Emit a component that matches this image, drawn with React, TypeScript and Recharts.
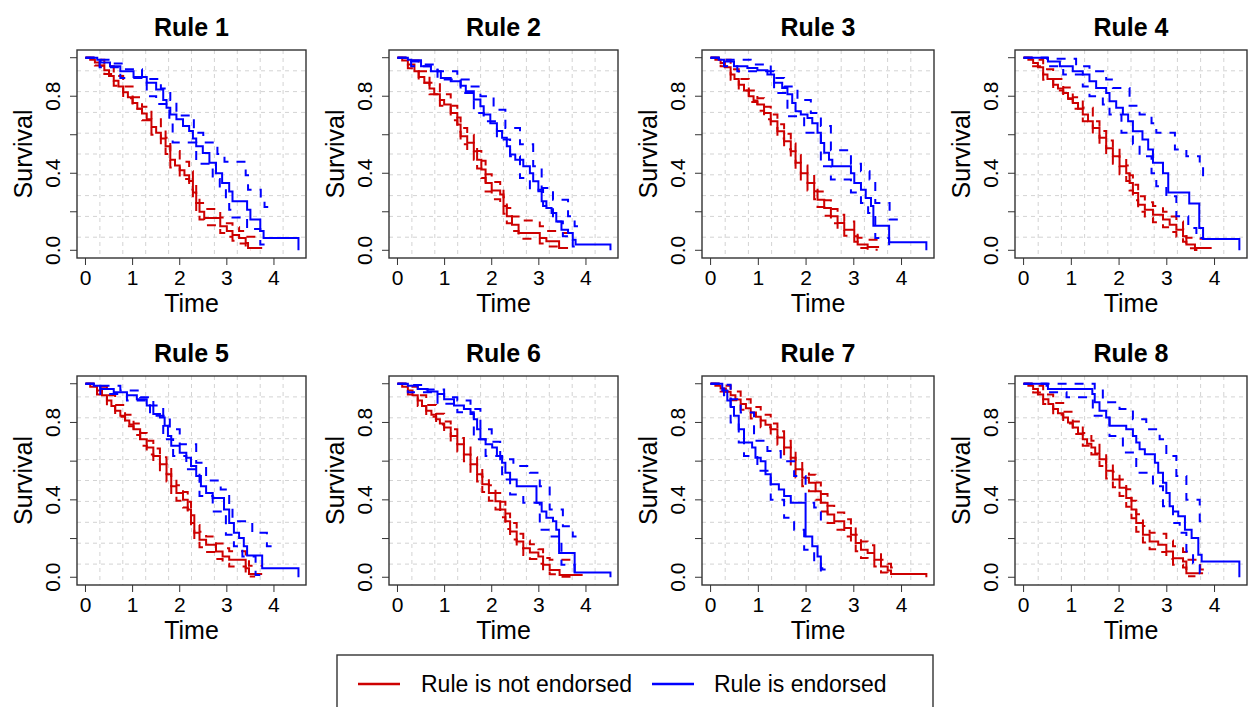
import React from 'react';
import { LineChart, Line, XAxis, YAxis, CartesianGrid } from 'recharts';

type P = [number, number][];

// ---- Rule 1 ----
const r1nE: P = [[0,1],[0.1,0.99],[0.2,0.975],[0.3,0.958],[0.4,0.935],[0.5,0.905],[0.6,0.88],[0.7,0.85],[0.8,0.82],[0.9,0.795],[1.0,0.765],[1.1,0.735],[1.2,0.71],[1.3,0.68],[1.4,0.64],[1.5,0.61],[1.6,0.58],[1.7,0.54],[1.8,0.47],[1.9,0.44],[2.0,0.415],[2.1,0.39],[2.2,0.36],[2.28,0.3],[2.35,0.245],[2.42,0.2],[2.52,0.168],[2.86,0.125],[3.0,0.1],[3.12,0.08],[3.26,0.064],[3.4,0.038],[3.45,0.012],[3.75,0.012]];
const r1nU: P = [[0,1],[0.2,0.99],[0.4,0.955],[0.6,0.905],[0.8,0.85],[1.0,0.795],[1.2,0.745],[1.4,0.68],[1.6,0.625],[1.7,0.585],[1.8,0.515],[2.0,0.46],[2.2,0.41],[2.28,0.35],[2.35,0.29],[2.42,0.245],[2.52,0.215],[2.86,0.17],[3.0,0.14],[3.12,0.12],[3.26,0.1],[3.4,0.07],[3.75,0.07]];
const r1nL: P = [[0,1],[0.2,0.96],[0.4,0.915],[0.6,0.855],[0.8,0.79],[1.0,0.735],[1.2,0.675],[1.4,0.6],[1.6,0.54],[1.7,0.5],[1.8,0.43],[2.0,0.37],[2.2,0.315],[2.28,0.26],[2.35,0.2],[2.42,0.16],[2.52,0.13],[2.86,0.09],[3.0,0.07],[3.12,0.05],[3.26,0.035],[3.4,0.015],[3.45,0.002],[3.5,0.002]];
const r1eE: P = [[0,1],[0.25,0.99],[0.32,0.975],[0.52,0.955],[0.74,0.93],[1.02,0.9],[1.3,0.87],[1.5,0.835],[1.65,0.78],[1.72,0.74],[1.8,0.705],[1.93,0.68],[2.07,0.645],[2.2,0.62],[2.28,0.58],[2.35,0.54],[2.49,0.505],[2.63,0.455],[2.77,0.4],[2.9,0.35],[3.05,0.305],[3.12,0.255],[3.43,0.21],[3.5,0.16],[3.71,0.1],[3.78,0.064],[4.52,0.064],[4.52,0]];
const r1eU: P = [[0,1],[0.3,0.99],[0.55,0.97],[0.8,0.94],[1.2,0.89],[1.6,0.84],[1.8,0.78],[1.93,0.7],[2.3,0.61],[2.5,0.56],[2.8,0.5],[2.95,0.46],[3.4,0.39],[3.45,0.315],[3.72,0.26],[3.8,0.225],[3.96,0.225]];
const r1eL: P = [[0,1],[0.3,0.95],[0.74,0.895],[1.3,0.8],[1.5,0.76],[1.78,0.67],[1.85,0.56],[2.35,0.45],[2.7,0.37],[2.85,0.32],[2.98,0.26],[3.05,0.21],[3.12,0.17],[3.43,0.11],[3.71,0.03],[3.78,0.01],[3.82,0.01]];

// ---- Rule 2 ----
const r2nE: P = [[0,1],[0.1,0.985],[0.22,0.965],[0.36,0.93],[0.45,0.9],[0.57,0.87],[0.68,0.84],[0.78,0.81],[0.9,0.78],[0.99,0.757],[1.13,0.713],[1.27,0.653],[1.34,0.592],[1.48,0.558],[1.62,0.514],[1.69,0.47],[1.78,0.42],[1.87,0.35],[2.0,0.31],[2.18,0.29],[2.25,0.23],[2.32,0.177],[2.43,0.133],[2.57,0.09],[3.02,0.064],[3.16,0.047],[3.43,0.012],[3.62,0.012]];
const r2nU: P = [[0,1],[0.22,0.985],[0.45,0.93],[0.68,0.87],[0.9,0.81],[1.13,0.75],[1.27,0.69],[1.34,0.635],[1.48,0.6],[1.62,0.56],[1.69,0.515],[1.78,0.465],[1.87,0.395],[2.0,0.355],[2.18,0.335],[2.25,0.275],[2.32,0.22],[2.43,0.175],[2.57,0.155],[3.02,0.125],[3.16,0.1],[3.43,0.09],[3.62,0.09]];
const r2nL: P = [[0,1],[0.22,0.945],[0.45,0.87],[0.68,0.81],[0.9,0.75],[1.13,0.675],[1.27,0.615],[1.34,0.55],[1.48,0.515],[1.62,0.47],[1.69,0.425],[1.78,0.375],[1.87,0.305],[2.0,0.265],[2.18,0.245],[2.25,0.19],[2.32,0.14],[2.43,0.1],[2.57,0.06],[3.02,0.035],[3.16,0.02],[3.43,0.003],[3.5,0.003]];
const r2eE: P = [[0,1],[0.22,0.99],[0.29,0.987],[0.5,0.956],[0.71,0.93],[0.92,0.895],[1.13,0.878],[1.34,0.855],[1.45,0.826],[1.62,0.783],[1.76,0.748],[1.83,0.705],[1.97,0.66],[2.11,0.62],[2.22,0.584],[2.32,0.54],[2.39,0.497],[2.5,0.47],[2.67,0.436],[2.81,0.4],[2.88,0.358],[2.99,0.306],[3.06,0.255],[3.16,0.22],[3.27,0.194],[3.37,0.15],[3.48,0.107],[3.62,0.09],[3.72,0.055],[3.78,0.03],[4.52,0.03],[4.52,0]];
const r2eU: P = [[0,1],[0.29,0.98],[0.57,0.965],[0.85,0.93],[1.27,0.887],[1.55,0.85],[1.76,0.8],[2.04,0.73],[2.29,0.635],[2.6,0.55],[2.88,0.436],[3.06,0.324],[3.3,0.263],[3.62,0.177],[3.76,0.125],[3.93,0.125]];
const r2eL: P = [[0,1],[0.29,0.956],[0.85,0.887],[1.34,0.817],[1.62,0.713],[1.83,0.67],[2.11,0.575],[2.39,0.488],[2.6,0.376],[2.81,0.315],[3.09,0.23],[3.3,0.15],[3.51,0.073],[3.72,0.02],[3.79,0.02]];

// ---- Rule 3 ----
const r3nE: P = [[0,1],[0.1,0.99],[0.21,0.973],[0.3,0.95],[0.42,0.913],[0.5,0.89],[0.59,0.86],[0.7,0.83],[0.8,0.8],[0.9,0.778],[0.98,0.757],[1.12,0.713],[1.26,0.67],[1.4,0.618],[1.54,0.566],[1.68,0.514],[1.78,0.454],[1.89,0.4],[2.03,0.35],[2.17,0.306],[2.24,0.263],[2.38,0.22],[2.52,0.177],[2.66,0.142],[2.8,0.107],[3.01,0.073],[3.08,0.03],[3.29,0.017],[3.53,0.017]];
const r3nU: P = [[0,1],[0.21,0.99],[0.42,0.94],[0.59,0.89],[0.8,0.83],[0.98,0.79],[1.12,0.745],[1.26,0.705],[1.4,0.655],[1.54,0.605],[1.68,0.555],[1.78,0.495],[1.89,0.44],[2.03,0.395],[2.17,0.35],[2.24,0.305],[2.38,0.26],[2.52,0.215],[2.66,0.185],[2.8,0.15],[3.01,0.115],[3.08,0.065],[3.29,0.055],[3.53,0.055]];
const r3nL: P = [[0,1],[0.21,0.955],[0.42,0.885],[0.59,0.83],[0.8,0.77],[0.98,0.725],[1.12,0.68],[1.26,0.635],[1.4,0.58],[1.54,0.525],[1.68,0.475],[1.78,0.415],[1.89,0.36],[2.03,0.31],[2.17,0.265],[2.24,0.225],[2.38,0.18],[2.52,0.14],[2.66,0.105],[2.8,0.075],[3.01,0.045],[3.08,0.012],[3.29,0.003],[3.5,0.003]];
const r3eE: P = [[0,1],[0.17,0.99],[0.28,0.98],[0.49,0.956],[0.77,0.947],[0.98,0.935],[1.19,0.913],[1.33,0.87],[1.5,0.843],[1.61,0.81],[1.71,0.765],[1.78,0.722],[1.89,0.705],[2.03,0.687],[2.13,0.66],[2.24,0.61],[2.31,0.557],[2.38,0.506],[2.48,0.47],[2.55,0.436],[2.94,0.4],[3.01,0.35],[3.15,0.315],[3.25,0.272],[3.36,0.23],[3.41,0.128],[3.74,0.042],[4.52,0.042],[4.52,0]];
const r3eU: P = [[0,1],[0.28,0.99],[0.84,0.965],[1.26,0.895],[1.54,0.85],[1.82,0.78],[2.1,0.713],[2.31,0.645],[2.52,0.52],[2.94,0.45],[3.15,0.41],[3.33,0.367],[3.45,0.246],[3.75,0.16],[3.95,0.16]];
const r3eL: P = [[0,1],[0.28,0.956],[0.56,0.93],[1.33,0.817],[1.61,0.696],[1.96,0.61],[2.31,0.436],[2.52,0.367],[2.94,0.3],[3.15,0.246],[3.3,0.194],[3.45,0.064],[3.74,0.007],[3.8,0.007]];

// ---- Rule 4 ----
const r4nE: P = [[0,1],[0.1,0.99],[0.2,0.973],[0.3,0.95],[0.41,0.913],[0.5,0.89],[0.62,0.86],[0.72,0.84],[0.83,0.817],[0.93,0.79],[1.03,0.765],[1.14,0.735],[1.24,0.705],[1.35,0.67],[1.45,0.635],[1.59,0.584],[1.73,0.53],[1.87,0.488],[2.01,0.436],[2.15,0.4],[2.22,0.35],[2.29,0.298],[2.4,0.237],[2.54,0.21],[2.71,0.185],[2.92,0.16],[3.06,0.133],[3.2,0.107],[3.34,0.073],[3.41,0.03],[3.59,0.012],[3.94,0.012]];
const r4nU: P = [[0,1],[0.2,0.99],[0.41,0.94],[0.62,0.89],[0.83,0.845],[1.03,0.795],[1.24,0.74],[1.45,0.67],[1.59,0.62],[1.73,0.57],[1.87,0.53],[2.01,0.48],[2.15,0.44],[2.22,0.39],[2.29,0.34],[2.4,0.28],[2.54,0.25],[2.71,0.23],[2.92,0.2],[3.06,0.175],[3.2,0.15],[3.34,0.11],[3.41,0.065],[3.59,0.06],[3.8,0.06]];
const r4nL: P = [[0,1],[0.2,0.955],[0.41,0.885],[0.62,0.83],[0.83,0.785],[1.03,0.735],[1.24,0.67],[1.45,0.6],[1.59,0.55],[1.73,0.49],[1.87,0.45],[2.01,0.395],[2.15,0.36],[2.22,0.31],[2.29,0.26],[2.4,0.2],[2.54,0.17],[2.71,0.145],[2.92,0.12],[3.06,0.095],[3.2,0.07],[3.34,0.045],[3.41,0.01],[3.59,0.002],[3.7,0.002]];
const r4eE: P = [[0,1],[0.48,1],[0.51,0.98],[0.76,0.956],[1.03,0.93],[1.24,0.913],[1.38,0.878],[1.52,0.843],[1.73,0.817],[1.8,0.774],[1.94,0.74],[2.08,0.705],[2.19,0.67],[2.29,0.618],[2.49,0.575],[2.61,0.523],[2.71,0.454],[2.92,0.4],[3.03,0.3],[3.47,0.243],[3.68,0.116],[3.76,0.059],[4.52,0.059],[4.52,0]];
const r4eU: P = [[0,1],[0.5,0.995],[1.1,0.956],[1.38,0.93],[1.73,0.887],[1.87,0.843],[2.22,0.75],[2.43,0.705],[2.68,0.66],[2.78,0.61],[3.17,0.523],[3.41,0.488],[3.69,0.436],[3.76,0.37],[3.77,0.37]];
const r4eL: P = [[0,1],[0.5,0.956],[0.83,0.913],[1.24,0.85],[1.38,0.8],[1.66,0.757],[1.8,0.705],[2.05,0.61],[2.29,0.55],[2.43,0.488],[2.68,0.4],[2.78,0.332],[2.99,0.28],[3.2,0.177],[3.45,0.116],[3.62,0.064],[3.76,0.064]];

// ---- Rule 5 ----
const r5nE: P = [[0,1],[0.1,0.985],[0.245,0.965],[0.35,0.94],[0.455,0.913],[0.55,0.885],[0.63,0.86],[0.74,0.835],[0.84,0.81],[0.93,0.79],[1.02,0.765],[1.16,0.713],[1.3,0.67],[1.44,0.627],[1.58,0.584],[1.72,0.532],[1.82,0.47],[1.93,0.436],[2.07,0.4],[2.17,0.35],[2.24,0.28],[2.31,0.23],[2.42,0.194],[2.56,0.168],[2.77,0.133],[2.91,0.107],[3.05,0.09],[3.4,0.047],[3.47,0.017],[3.75,0.017]];
const r5nU: P = [[0,1],[0.245,0.985],[0.455,0.94],[0.63,0.89],[0.84,0.84],[1.02,0.795],[1.16,0.745],[1.3,0.705],[1.44,0.665],[1.58,0.62],[1.72,0.57],[1.82,0.51],[1.93,0.475],[2.07,0.44],[2.17,0.39],[2.24,0.32],[2.31,0.27],[2.42,0.235],[2.56,0.21],[2.77,0.175],[2.91,0.15],[3.05,0.135],[3.4,0.09],[3.47,0.06],[3.75,0.06]];
const r5nL: P = [[0,1],[0.245,0.945],[0.455,0.885],[0.63,0.83],[0.84,0.78],[1.02,0.735],[1.16,0.68],[1.3,0.635],[1.44,0.59],[1.58,0.545],[1.72,0.495],[1.82,0.43],[1.93,0.395],[2.07,0.36],[2.17,0.31],[2.24,0.24],[2.31,0.19],[2.42,0.155],[2.56,0.13],[2.77,0.095],[2.91,0.07],[3.05,0.055],[3.4,0.02],[3.47,0.004],[3.6,0.004]];
const r5eE: P = [[0,1],[0.14,1],[0.175,0.99],[0.315,0.973],[0.6,0.956],[0.88,0.94],[1.09,0.92],[1.3,0.887],[1.44,0.843],[1.58,0.826],[1.68,0.783],[1.75,0.73],[1.82,0.68],[2.0,0.644],[2.14,0.618],[2.24,0.575],[2.35,0.523],[2.45,0.47],[2.56,0.436],[2.7,0.41],[2.94,0.35],[3.05,0.28],[3.15,0.23],[3.26,0.203],[3.36,0.16],[3.43,0.113],[3.75,0.047],[4.52,0.047],[4.52,0]];
const r5eU: P = [[0,1],[0.315,0.99],[0.74,0.965],[1.16,0.93],[1.44,0.887],[1.65,0.835],[1.79,0.765],[2.0,0.687],[2.35,0.592],[2.56,0.5],[2.87,0.454],[3.05,0.36],[3.12,0.29],[3.54,0.23],[3.85,0.16],[3.95,0.16]];
const r5eL: P = [[0,1],[0.315,0.947],[0.88,0.913],[1.37,0.835],[1.65,0.713],[1.86,0.627],[2.14,0.558],[2.42,0.42],[2.7,0.34],[2.98,0.22],[3.15,0.16],[3.33,0.107],[3.61,0.012],[3.8,0.012]];

// ---- Rule 6 ----
const r6nE: P = [[0,1],[0.1,0.985],[0.22,0.965],[0.32,0.94],[0.43,0.913],[0.52,0.885],[0.61,0.86],[0.72,0.84],[0.82,0.817],[0.9,0.795],[0.99,0.774],[1.13,0.73],[1.27,0.687],[1.41,0.635],[1.55,0.584],[1.69,0.532],[1.8,0.48],[1.94,0.436],[2.08,0.393],[2.18,0.35],[2.29,0.29],[2.39,0.237],[2.53,0.185],[2.67,0.15],[2.81,0.128],[2.99,0.107],[3.09,0.064],[3.23,0.038],[3.44,0.012],[3.93,0.012]];
const r6nU: P = [[0,1],[0.22,0.985],[0.43,0.94],[0.61,0.89],[0.82,0.845],[0.99,0.805],[1.13,0.765],[1.27,0.72],[1.41,0.67],[1.55,0.62],[1.69,0.57],[1.8,0.52],[1.94,0.475],[2.08,0.435],[2.18,0.39],[2.29,0.33],[2.39,0.28],[2.53,0.225],[2.67,0.19],[2.81,0.17],[2.99,0.145],[3.09,0.1],[3.23,0.09],[3.82,0.09]];
const r6nL: P = [[0,1],[0.22,0.945],[0.43,0.885],[0.61,0.83],[0.82,0.79],[0.99,0.745],[1.13,0.695],[1.27,0.65],[1.41,0.6],[1.55,0.545],[1.69,0.495],[1.8,0.44],[1.94,0.395],[2.08,0.35],[2.18,0.31],[2.29,0.25],[2.39,0.195],[2.53,0.15],[2.67,0.115],[2.81,0.095],[2.99,0.07],[3.09,0.035],[3.23,0.015],[3.44,0.003],[3.7,0.003]];
const r6eE: P = [[0,1],[0.15,1],[0.22,0.99],[0.43,0.973],[0.64,0.96],[0.85,0.947],[0.99,0.92],[1.2,0.887],[1.41,0.87],[1.55,0.843],[1.62,0.817],[1.69,0.765],[1.76,0.713],[1.87,0.687],[2.01,0.67],[2.11,0.627],[2.22,0.592],[2.29,0.54],[2.39,0.505],[2.53,0.47],[2.95,0.385],[3.06,0.34],[3.16,0.307],[3.3,0.29],[3.37,0.246],[3.43,0.125],[3.76,0.024],[4.52,0.024],[4.52,0]];
const r6eU: P = [[0,1],[0.22,0.993],[0.57,0.97],[0.99,0.93],[1.27,0.913],[1.55,0.87],[1.76,0.765],[2.0,0.7],[2.18,0.61],[2.46,0.575],[2.81,0.54],[3.02,0.47],[3.23,0.35],[3.51,0.263],[3.72,0.21],[3.8,0.21]];
const r6eL: P = [[0,1],[0.22,0.956],[0.85,0.896],[1.27,0.853],[1.62,0.713],[1.87,0.627],[2.22,0.505],[2.39,0.428],[2.67,0.385],[3.02,0.246],[3.23,0.21],[3.48,0.064],[3.76,0.004],[3.78,0.004]];

// ---- Rule 7 ----
const r7nE: P = [[0,1],[0.1,0.99],[0.21,0.976],[0.32,0.958],[0.42,0.94],[0.52,0.918],[0.63,0.895],[0.74,0.873],[0.84,0.852],[0.95,0.83],[1.05,0.81],[1.15,0.788],[1.26,0.765],[1.4,0.722],[1.54,0.67],[1.68,0.618],[1.78,0.558],[1.92,0.514],[2.06,0.488],[2.2,0.445],[2.31,0.385],[2.45,0.324],[2.59,0.29],[2.8,0.255],[2.94,0.22],[3.04,0.177],[3.15,0.142],[3.29,0.125],[3.43,0.09],[3.57,0.055],[3.71,0.035],[3.78,0.017],[4.52,0.017],[4.52,0]];
const r7nU: P = [[0,1],[0.21,0.99],[0.42,0.96],[0.63,0.92],[0.84,0.88],[1.05,0.84],[1.26,0.795],[1.4,0.755],[1.54,0.705],[1.68,0.655],[1.78,0.6],[1.92,0.555],[2.06,0.53],[2.2,0.49],[2.31,0.43],[2.45,0.37],[2.59,0.335],[2.8,0.3],[2.94,0.265],[3.04,0.22],[3.15,0.185],[3.29,0.165],[3.43,0.13],[3.57,0.09],[3.71,0.07],[3.78,0.05],[3.9,0.05]];
const r7nL: P = [[0,1],[0.21,0.96],[0.42,0.915],[0.63,0.865],[0.84,0.82],[1.05,0.775],[1.26,0.73],[1.4,0.685],[1.54,0.63],[1.68,0.575],[1.78,0.515],[1.92,0.47],[2.06,0.445],[2.2,0.4],[2.31,0.34],[2.45,0.28],[2.59,0.245],[2.8,0.21],[2.94,0.175],[3.04,0.135],[3.15,0.1],[3.29,0.085],[3.43,0.055],[3.57,0.025],[3.71,0.01],[3.78,0.002],[3.8,0.002]];
const r7eE: P = [[0,1],[0.21,1],[0.245,0.965],[0.35,0.913],[0.42,0.88],[0.49,0.835],[0.59,0.765],[0.7,0.696],[0.87,0.67],[0.94,0.618],[1.05,0.6],[1.15,0.532],[1.26,0.48],[1.43,0.454],[1.54,0.42],[1.68,0.385],[1.99,0.21],[2.13,0.16],[2.24,0.107],[2.31,0.047],[2.34,0.04],[2.41,0.04]];
const r7eU: P = [[0,1],[0.21,0.995],[0.42,0.92],[0.63,0.852],[0.91,0.705],[1.19,0.653],[1.47,0.6],[1.75,0.523],[1.99,0.385],[2.17,0.36],[2.31,0.28],[2.38,0.28]];
const r7eL: P = [[0,1],[0.28,0.94],[0.42,0.8],[0.59,0.696],[0.7,0.627],[0.98,0.55],[1.26,0.4],[1.54,0.307],[1.75,0.246],[1.96,0.142],[2.17,0.081],[2.31,0.003],[2.34,0.003]];

// ---- Rule 8 ----
const r8nE: P = [[0,1],[0.1,0.99],[0.2,0.973],[0.3,0.945],[0.41,0.92],[0.52,0.895],[0.62,0.87],[0.72,0.848],[0.83,0.826],[0.93,0.8],[1.03,0.774],[1.14,0.743],[1.24,0.713],[1.33,0.69],[1.42,0.67],[1.5,0.64],[1.59,0.61],[1.73,0.55],[1.87,0.505],[2.01,0.462],[2.15,0.41],[2.26,0.35],[2.36,0.28],[2.5,0.22],[2.64,0.185],[2.82,0.168],[2.99,0.133],[3.13,0.098],[3.34,0.081],[3.41,0.021],[3.76,0.021]];
const r8nU: P = [[0,1],[0.2,0.99],[0.41,0.945],[0.62,0.9],[0.83,0.855],[1.03,0.805],[1.24,0.745],[1.42,0.705],[1.59,0.645],[1.73,0.59],[1.87,0.545],[2.01,0.505],[2.15,0.455],[2.26,0.395],[2.36,0.325],[2.5,0.265],[2.64,0.23],[2.82,0.225],[2.99,0.19],[3.13,0.16],[3.34,0.13],[3.41,0.09],[3.7,0.04],[3.8,0.04]];
const r8nL: P = [[0,1],[0.2,0.955],[0.41,0.895],[0.62,0.84],[0.83,0.795],[1.03,0.74],[1.24,0.68],[1.42,0.635],[1.59,0.575],[1.73,0.51],[1.87,0.465],[2.01,0.42],[2.15,0.365],[2.26,0.305],[2.36,0.235],[2.5,0.18],[2.64,0.145],[2.82,0.13],[2.99,0.095],[3.13,0.065],[3.34,0.05],[3.41,0.005],[3.6,0.005]];
const r8eE: P = [[0,1],[0.48,1],[0.51,0.973],[1.44,0.947],[1.49,0.905],[1.59,0.86],[1.73,0.826],[1.8,0.783],[2.15,0.765],[2.29,0.73],[2.36,0.696],[2.43,0.662],[2.54,0.636],[2.75,0.592],[2.82,0.54],[2.92,0.488],[2.99,0.436],[3.06,0.367],[3.13,0.34],[3.24,0.315],[3.38,0.246],[3.52,0.203],[3.66,0.116],[3.73,0.081],[4.52,0.081],[4.52,0]];
const r8eU: P = [[0,1],[1.49,0.965],[1.66,0.905],[2.01,0.87],[2.29,0.817],[2.57,0.765],[2.85,0.713],[2.99,0.627],[3.2,0.523],[3.41,0.4],[3.69,0.29],[3.87,0.29]];
const r8eL: P = [[0,1],[0.48,0.956],[0.9,0.93],[1.45,0.835],[1.8,0.73],[2.08,0.645],[2.36,0.54],[2.71,0.47],[2.92,0.367],[3.13,0.28],[3.27,0.23],[3.41,0.133],[3.55,0.073],[3.69,0.021],[3.87,0.021]];

const titles = ['Rule 1', 'Rule 2', 'Rule 3', 'Rule 4', 'Rule 5', 'Rule 6', 'Rule 7', 'Rule 8'];
const xTicks = [0, 1, 2, 3, 4];
const yTicks = [0, 0.2, 0.4, 0.6, 0.8, 1.0];
const yTickLabels: Record<string, string> = { '0': '0.0', '0.4': '0.4', '0.8': '0.8' };
const legendLabels = ['Rule is not endorsed', 'Rule is endorsed'];

const panels = [
  { not: [r1nE, r1nL, r1nU], end: [r1eE, r1eL, r1eU] },
  { not: [r2nE, r2nL, r2nU], end: [r2eE, r2eL, r2eU] },
  { not: [r3nE, r3nL, r3nU], end: [r3eE, r3eL, r3eU] },
  { not: [r4nE, r4nL, r4nU], end: [r4eE, r4eL, r4eU] },
  { not: [r5nE, r5nL, r5nU], end: [r5eE, r5eL, r5eU] },
  { not: [r6nE, r6nL, r6nU], end: [r6eE, r6eL, r6eU] },
  { not: [r7nE, r7nL, r7nU], end: [r7eE, r7eL, r7eU] },
  { not: [r8nE, r8nL, r8nU], end: [r8eE, r8eL, r8eU] },
];

const FONT = "'Liberation Sans', Arial, Helvetica, sans-serif";
const RED = '#CD0000';
const BLUE = '#0000FF';
const AXIS = '#333333';
const X_DOMAIN: [number, number] = [-0.18, 4.68];
const Y_DOMAIN: [number, number] = [-0.04, 1.04];
const COL_LEFT = [77, 389, 702, 1015];
const COL_W = [229, 229, 232, 232];
const ROW_TOP = [50, 376];
const ROW_H = [208, 209];
const ML = 80;
const MT = 50;
const MB = 70;

const toPts = (a: P) => a.map(([t, v]) => ({ t, v }));

const YTick = (props: any) => {
  const { x, y, payload } = props;
  const lab = yTickLabels[String(payload.value)] ?? '';
  if (!lab) return null;
  return (
    <text x={x} y={y} transform={`rotate(-90 ${x} ${y})`} textAnchor="middle" fontSize={21} fill="#000" fontFamily={FONT}>
      {lab}
    </text>
  );
};

function Panel({ idx }: { idx: number }) {
  const col = idx % 4;
  const row = Math.floor(idx / 4);
  const w = COL_W[col];
  const h = ROW_H[row];
  const cfg = panels[idx];
  const vpts = [1, 2, 3, 4, 5, 6, 7, 8, 9].map((k) => ML + (k * w) / 10);
  const hpts = [1, 2, 3, 4, 5, 6, 7, 8, 9].map((k) => MT + (k * h) / 10);
  const mk = (arr: P, color: string, dashed: boolean, key: string) => (
    <Line
      key={key}
      data={toPts(arr)}
      dataKey="v"
      type="stepAfter"
      stroke={color}
      strokeWidth={2}
      strokeDasharray={dashed ? '9 8' : undefined}
      dot={false}
      activeDot={false}
      isAnimationActive={false}
    />
  );
  return (
    <div style={{ position: 'absolute', left: COL_LEFT[col] - ML, top: ROW_TOP[row] - MT }}>
      <LineChart width={ML + w + 1} height={MT + h + MB} margin={{ top: MT, right: 1, bottom: 0, left: 0 }}>
        <CartesianGrid verticalPoints={vpts} horizontalPoints={hpts} stroke="#d3d3d3" strokeDasharray="4 4" />
        <XAxis
          type="number"
          dataKey="t"
          domain={X_DOMAIN}
          ticks={xTicks}
          interval={0}
          allowDataOverflow
          height={MB}
          tickSize={7}
          tickMargin={5}
          axisLine={false}
          stroke={AXIS}
          tickLine={{ stroke: AXIS }}
          tick={{ fontSize: 21, fill: '#000', fontFamily: FONT }}
        />
        <YAxis
          type="number"
          domain={Y_DOMAIN}
          ticks={yTicks}
          interval={0}
          allowDataOverflow
          width={ML}
          tickSize={7}
          tickMargin={10}
          axisLine={false}
          stroke={AXIS}
          tickLine={{ stroke: AXIS }}
          tick={<YTick />}
        />
        {mk(cfg.not[1], RED, true, 'nl')}
        {mk(cfg.not[2], RED, true, 'nu')}
        {mk(cfg.not[0], RED, false, 'ne')}
        {mk(cfg.end[1], BLUE, true, 'el')}
        {mk(cfg.end[2], BLUE, true, 'eu')}
        {mk(cfg.end[0], BLUE, false, 'ee')}
      </LineChart>
    </div>
  );
}

export default function App() {
  return (
    <div style={{ position: 'absolute', left: 0, top: 0, width: 1248, height: 707, overflow: 'hidden', background: '#fff' }}>
      {titles.map((_, i) => (
        <Panel key={i} idx={i} />
      ))}
      <svg width={1248} height={707} style={{ position: 'absolute', left: 0, top: 0, pointerEvents: 'none' }}>
        {titles.map((t, i) => {
          const col = i % 4;
          const row = Math.floor(i / 4);
          const L = COL_LEFT[col];
          const W = COL_W[col];
          const T = ROW_TOP[row];
          const H = ROW_H[row];
          const cx = L + W / 2;
          const cy = T + H / 2;
          return (
            <g key={t} fontFamily={FONT}>
              <rect x={L} y={T} width={W} height={H} fill="none" stroke={AXIS} strokeWidth={1.4} />
              <text x={cx} y={T - 14.5} textAnchor="middle" fontSize={25} fontWeight="bold" fill="#000">
                {t}
              </text>
              <text x={cx} y={T + H + 53.5} textAnchor="middle" fontSize={25} fill="#000">
                Time
              </text>
              <text x={L - 45} y={cy} transform={`rotate(-90 ${L - 45} ${cy})`} textAnchor="middle" fontSize={25} fill="#000">
                Survival
              </text>
            </g>
          );
        })}
        <g fontFamily={FONT}>
          <rect x={337} y={655} width={596} height={70} fill="none" stroke={AXIS} strokeWidth={1.4} />
          <line x1={358} y1={684} x2={400} y2={684} stroke={RED} strokeWidth={2.5} />
          <text x={421} y={692} fontSize={23} fill="#000">{legendLabels[0]}</text>
          <line x1={652} y1={684} x2={694} y2={684} stroke={BLUE} strokeWidth={2.5} />
          <text x={714} y={692} fontSize={23} fill="#000">{legendLabels[1]}</text>
        </g>
      </svg>
    </div>
  );
}
